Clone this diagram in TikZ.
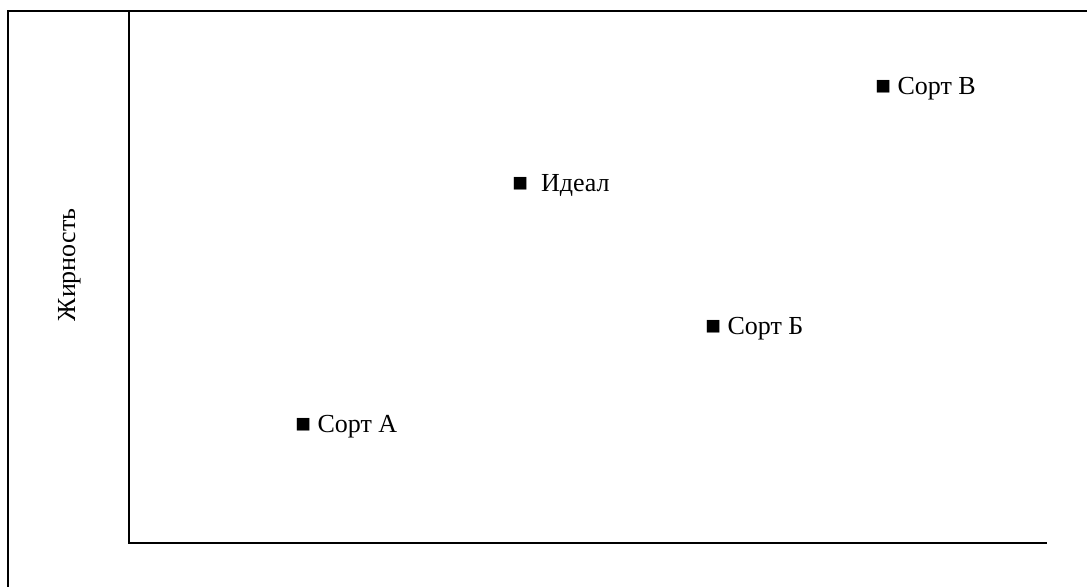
\documentclass[tikz,border=0pt]{standalone}
\usepackage{fontspec}
\setmainfont{Liberation Serif}
\usepackage{tikz}
\usetikzlibrary{positioning,calc}

\begin{document}
\begin{tikzpicture}[
  x=0.5pt, y=-0.5pt,
  axisline/.style={draw, line width=1pt},
  sortlabel/.style={
    anchor=base west,
    inner sep=0pt,
    font=\fontsize{13}{15.6}\selectfont
    }
]

\clip (0,0) rectangle (1087,587);
\draw[axisline] (8,11) rectangle (1100,600);

\coordinate (ytop) at (129,11);
\coordinate (origin) at (129,543);
\coordinate (xend) at (1047,543);
\draw[axisline] (ytop) -- (origin) -- (xend);

\node[sortlabel, anchor=base, rotate=90] (fat) at (75,265) {Жирность};

\node[sortlabel] (sortA) at (295,433) {■ Сорт А};
\node[sortlabel] (ideal) at (512,192) {■\ \ Идеал};
\node[sortlabel] (sortB) at (705,335) {■ Сорт Б};
\node[sortlabel] (sortV) at (875,95) {■ Сорт В};
\end{tikzpicture}
\end{document}
